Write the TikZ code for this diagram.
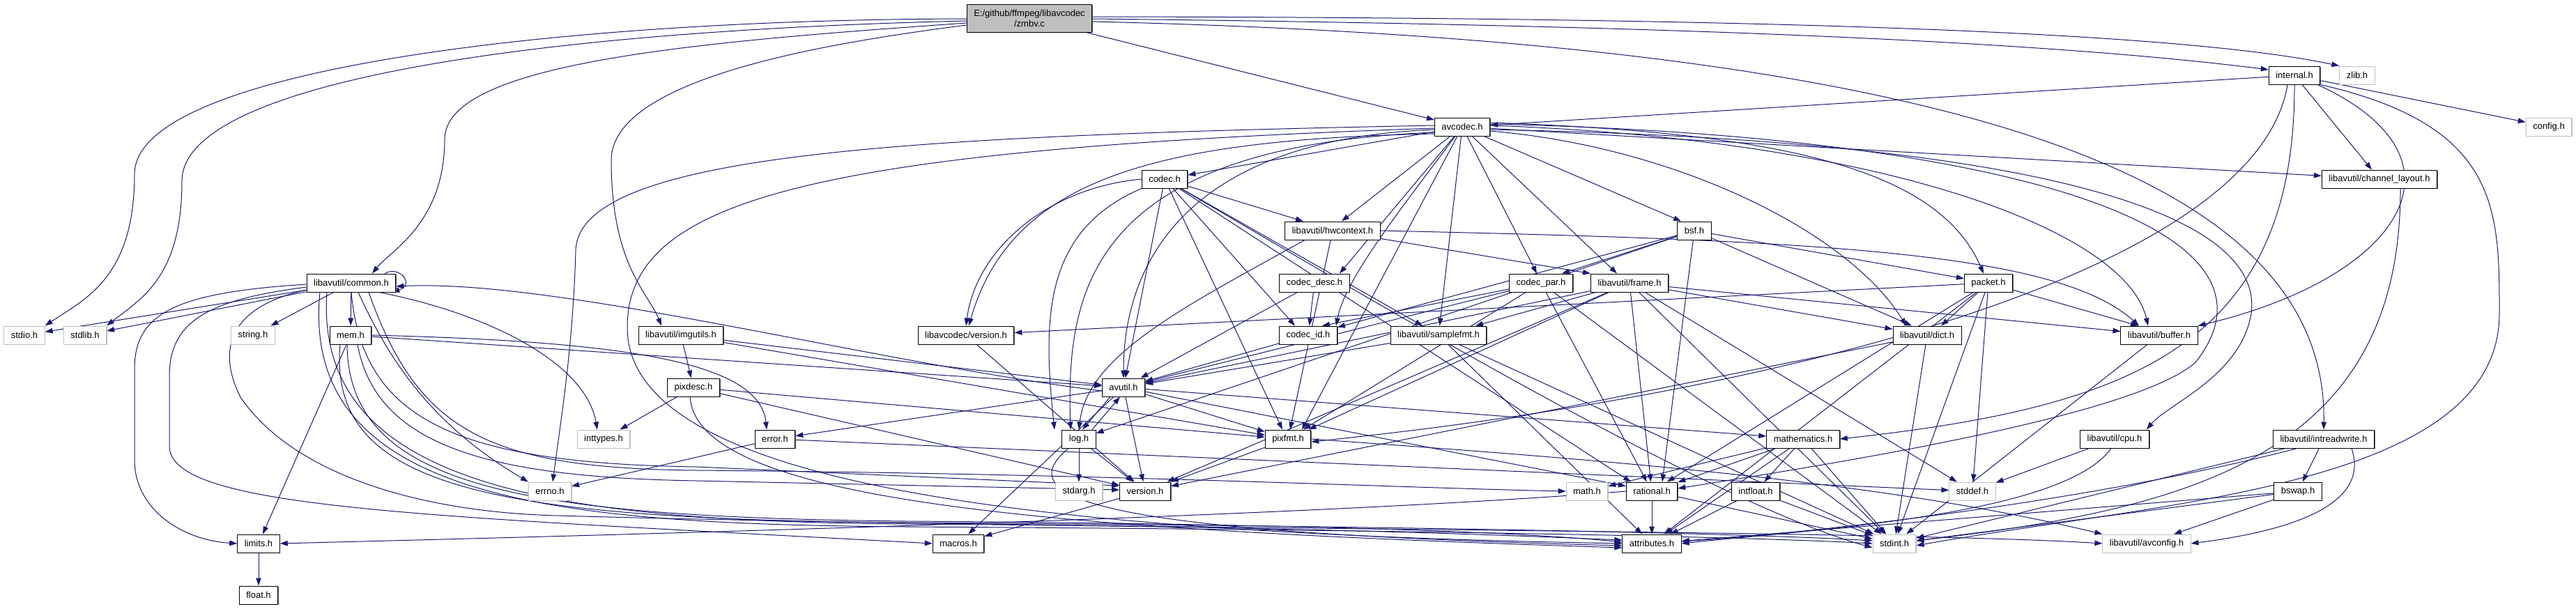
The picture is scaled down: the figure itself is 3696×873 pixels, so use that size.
\documentclass[tikz,border=0pt]{standalone}
\usepackage{fontspec}
\setmainfont{Liberation Sans}
\usetikzlibrary{arrows.meta,shadows}
\definecolor{ec}{HTML}{191970}
\definecolor{zg}{HTML}{BFBFBF}
\definecolor{gb}{HTML}{BFBFBF}
\newcommand{\nf}{\fontsize{13pt}{15pt}\selectfont}
\pgfdeclarelayer{bg}
\pgfsetlayers{bg,main}
\tikzset{
  nb/.style={draw=black, line width=1pt, fill=white, minimum height=26pt, inner xsep=10pt, inner ysep=0pt, font=\nf,
    drop shadow={shadow xshift=1.2pt, shadow yshift=-1.2pt, fill=black!60, opacity=1}},
  ng/.style={draw=gb, line width=1pt, fill=white, minimum height=26pt, inner xsep=10pt, inner ysep=0pt, font=\nf,
    drop shadow={shadow xshift=1pt, shadow yshift=-1pt, fill=gray!50, opacity=1}},
  ln/.style={draw=ec, line width=1pt, -{Triangle[length=11pt,width=7.5pt]}},
}
\begin{document}
\begin{tikzpicture}[x=1pt,y=-1pt]
\useasboundingbox (0,0) rectangle (3696,873);
% ---------------- nodes
\node[nb,fill=zg,align=center,minimum height=40pt] (Z) at (1477,26) {E:/github/ffmpeg/libavcodec\\/zmbv.c};
\node[nb] (internal) at (3292,108) {internal.h};
\node[ng] (zlib) at (3382,108) {zlib.h};
\node[ng] (config) at (3657,182) {config.h};
\node[nb] (avcodec) at (2098,182) {avcodec.h};
\node[nb] (codec) at (1671,257) {codec.h};
\node[nb] (chl) at (3414,257) {libavutil/channel\_layout.h};
\node[nb] (hw) at (1912,331) {libavutil/hwcontext.h};
\node[nb] (bsf) at (2431,331) {bsf.h};
\node[nb] (cdesc) at (1886,406) {codec\_desc.h};
\node[nb] (cpar) at (2211,406) {codec\_par.h};
\node[nb] (frame) at (2338,406) {libavutil/frame.h};
\node[nb] (packet) at (2853,406) {packet.h};
\node[nb] (common) at (504,406) {libavutil/common.h};
\node[nb] (lcver) at (1386,481) {libavcodec/version.h};
\node[nb] (cid) at (1877,481) {codec\_id.h};
\node[nb] (sfmt) at (2064,481) {libavutil/samplefmt.h};
\node[nb] (dict) at (2765,481) {libavutil/dict.h};
\node[nb] (buffer) at (3098,481) {libavutil/buffer.h};
\node[ng] (stdio) at (35,481) {stdio.h};
\node[ng] (stdlib) at (122,481) {stdlib.h};
\node[ng] (string) at (363,481) {string.h};
\node[nb] (mem) at (503,481) {mem.h};
\node[nb] (imgutils) at (977,481) {libavutil/imgutils.h};
\node[nb] (pixdesc) at (995,556) {pixdesc.h};
\node[nb] (avutil) at (1612,556) {avutil.h};
\node[ng] (inttypes) at (866,630) {inttypes.h};
\node[nb] (error) at (1112,630) {error.h};
\node[nb] (log) at (1548,630) {log.h};
\node[nb] (pixfmt) at (1848,630) {pixfmt.h};
\node[nb] (mathematics) at (2587,630) {mathematics.h};
\node[nb] (cpu) at (3034,630) {libavutil/cpu.h};
\node[nb] (intrw) at (3334,630) {libavutil/intreadwrite.h};
\node[ng] (errno) at (789,705) {errno.h};
\node[ng] (stdarg) at (1548,705) {stdarg.h};
\node[nb] (version) at (1643,705) {version.h};
\node[ng] (math) at (2277,705) {math.h};
\node[nb] (rational) at (2370,705) {rational.h};
\node[nb] (intfloat) at (2519,705) {intfloat.h};
\node[ng] (stddef) at (2830,705) {stddef.h};
\node[nb] (bswap) at (3297,705) {bswap.h};
\node[nb] (limits) at (371,780) {limits.h};
\node[nb] (macros) at (1375,780) {macros.h};
\node[nb] (attributes) at (2370,780) {attributes.h};
\node[ng] (stdint) at (2718,780) {stdint.h};
\node[ng] (avconfig) at (3080,780) {libavutil/avconfig.h};
\node[nb] (float) at (371,854) {float.h};
% ---------------- edges
\begin{pgfonlayer}{bg}
% zmbv.c
\draw[ln] ([yshift=-1pt]Z.west) .. controls (800,28) and (193,100) .. (193,250) .. controls (193,400) and (120,430) .. (stdio.north east);
\draw[ln] ([yshift=-4pt]Z.west) .. controls (750,45) and (261,120) .. (261,260) .. controls (261,400) and (200,430) .. (stdlib.north east);
\draw[ln] ([yshift=-7pt]Z.west) .. controls (1000,60) and (638,90) .. (638,200) .. controls (638,320) and (560,360) .. ([xshift=30pt]common.north);
\draw[ln] ([yshift=-10pt]Z.west) .. controls (1200,60) and (877,110) .. (877,230) .. controls (877,380) and (930,420) .. ([xshift=-28pt]imgutils.north);
\draw[ln] (Z) -- (avcodec);
\draw[ln] ([yshift=-1pt]Z.east) .. controls (2300,35) and (2900,55) .. ([yshift=8pt]internal.west);
\draw[ln] ([yshift=2pt]Z.east) .. controls (2400,25) and (3100,40) .. (zlib.north west);
\draw[ln] ([yshift=-5pt]Z.east) .. controls (2800,60) and (3340,250) .. (intrw.north);
% internal.h
\draw[ln] (internal) -- (avcodec);
\draw[ln] (internal) -- (config);
\draw[ln] (internal) -- (chl);
\draw[ln] ([xshift=-4pt]internal.south east) .. controls (3560,230) and (3440,400) .. (buffer.north east);
\draw[ln] (internal.south east) .. controls (3586,180) and (3586,300) .. (3586,450) .. controls (3586,700) and (3100,720) .. ([yshift=-3pt]stdint.east);
\draw[ln] (internal.south) .. controls (3293,500) and (3050,585) .. (mathematics.east);
\draw[ln] ([xshift=-10pt]internal.south) .. controls (3240,380) and (2600,560) .. ([yshift=-4pt]pixfmt.east);
% avcodec.h
\draw[ln] ([yshift=2pt]avcodec.west) .. controls (1300,195) and (829,220) .. (826,360) .. controls (822,500) and (805,600) .. ([xshift=4pt]errno.north);
\draw[ln] ([yshift=-2pt]avcodec.west) .. controls (1150,215) and (900,290) .. (900,470) .. controls (900,700) and (1500,765) .. (attributes.west);
\draw[ln] ([yshift=-4pt]avcodec.west) .. controls (1700,200) and (1612,380) .. (avutil.north);
\draw[ln] ([yshift=2pt]avcodec.east) .. controls (2700,200) and (3050,330) .. ([xshift=-16pt]buffer.north);
\draw[ln] ([yshift=-4pt]avcodec.east) .. controls (2900,200) and (3250,300) .. (3230,450) .. controls (3215,540) and (3110,580) .. ([xshift=-4pt]cpu.north east);
\draw[ln] (avcodec) -- (chl);
\draw[ln] ([yshift=-6pt]avcodec.east) .. controls (2400,210) and (2650,330) .. ([xshift=-30pt]dict.north);
\draw[ln] (avcodec) -- ([xshift=-18pt]frame.north);
\draw[ln] (avcodec) -- ([xshift=13pt]hw.north);
\draw[ln] ([yshift=-8pt]avcodec.west) .. controls (1560,210) and (1530,420) .. ([xshift=-12pt]log.north);
\draw[ln] (avcodec) -- ([xshift=20pt]pixfmt.north);
\draw[ln] ([yshift=4pt]avcodec.east) .. controls (2900,195) and (3300,330) .. (3150,520) .. controls (3060,600) and (2600,670) .. ([yshift=4pt]rational.east);
\draw[ln] (avcodec) -- (codec);
\draw[ln] (avcodec) -- ([xshift=36pt]cdesc.north);
\draw[ln] (avcodec) -- ([xshift=-6pt]cpar.north);
\draw[ln] (avcodec) .. controls (2010,300) and (1930,400) .. ([xshift=-2pt]cid.north east);
\draw[ln] ([yshift=6pt]avcodec.east) .. controls (2550,190) and (2780,240) .. ([xshift=-7pt]packet.north);
\draw[ln] ([yshift=-10pt]avcodec.west) .. controls (1650,200) and (1450,260) .. ([xshift=4pt]lcver.north);
\draw[ln] (avcodec) -- ([xshift=-19pt]bsf.north);
\draw[ln] (avcodec) -- (sfmt);
% codec.h
\draw[ln] (codec) .. controls (1950,420) and (2450,720) .. ([yshift=-6pt]stdint.west);
\draw[ln] (codec) -- (avutil);
\draw[ln] (codec) -- ([xshift=-42pt]hw.north);
\draw[ln] (codec.south west) .. controls (1500,330) and (1495,450) .. ([xshift=-35pt]log.north);
\draw[ln] (codec) -- ([xshift=-8pt]pixfmt.north);
\draw[ln] (codec) -- ([xshift=-30pt]rational.north);
\draw[ln] (codec) -- ([xshift=-23pt]sfmt.north);
\draw[ln] (codec) -- ([xshift=-19pt]cid.north);
\draw[ln] (codec.west) .. controls (1500,270) and (1400,360) .. (lcver.north);
% codec_desc.h, codec_id.h
\draw[ln] (cdesc) -- (avutil);
\draw[ln] (cdesc) -- (cid);
\draw[ln] (cid) -- (avutil);
% codec_par.h
\draw[ln] (cpar) -- (stdint);
\draw[ln] (cpar) -- (avutil);
\draw[ln] (cpar) -- (rational);
\draw[ln] (cpar) -- (pixfmt);
\draw[ln] (cpar) -- ([xshift=20pt]cid.north);
% bsf.h
\draw[ln] (bsf) -- ([xshift=-22pt]dict.north);
\draw[ln] (bsf) -- (log);
\draw[ln] (bsf) -- ([xshift=15pt]rational.north);
\draw[ln] (bsf) -- (cid);
\draw[ln] (bsf) -- ([xshift=30pt]cpar.north);
\draw[ln] (bsf) -- (packet);
% packet.h
\draw[ln] (packet) -- (stddef);
\draw[ln] (packet) -- (stdint);
\draw[ln] (packet) -- (attributes);
\draw[ln] (packet) -- ([xshift=-30pt]buffer.north);
\draw[ln] (packet) -- ([xshift=20pt]dict.north);
\draw[ln] (packet) -- (rational);
\draw[ln] (packet) -- (lcver);
% versions
\draw[ln] (lcver) -- (version);
\draw[ln] (version) -- (macros);
% hwcontext.h
\draw[ln] (hw.east) .. controls (2600,345) and (2950,360) .. ([xshift=-29pt]buffer.north);
\draw[ln] (hw) -- (frame.north west);
\draw[ln] ([xshift=-40pt]hw.south) .. controls (1700,440) and (1560,510) .. (log.north);
\draw[ln] (hw) -- (pixfmt);
% frame.h
\draw[ln] (frame) -- (stddef);
\draw[ln] (frame) -- (stdint);
\draw[ln] (frame) -- (avutil);
\draw[ln] (frame) -- (buffer);
\draw[ln] (frame) -- (dict);
\draw[ln] (frame) -- (rational);
\draw[ln] (frame) -- ([xshift=53pt]sfmt.north);
\draw[ln] (frame) -- (pixfmt);
\draw[ln] (frame) -- (version);
% samplefmt.h, dict.h, buffer.h, channel_layout.h
\draw[ln] (sfmt) -- (stdint);
\draw[ln] (sfmt) -- (avutil);
\draw[ln] (sfmt) -- (attributes);
\draw[ln] (dict) -- (stdint);
\draw[ln] (dict) -- (version);
\draw[ln] (buffer) -- (stdint);
\draw[ln] ([xshift=30pt]chl.south) .. controls (3445,650) and (3150,730) .. ([yshift=4pt]stdint.east);
% cpu.h
\draw[ln] (cpu) -- (stddef);
\draw[ln] ([xshift=-5pt]cpu.south) .. controls (2960,740) and (2600,760) .. (attributes.east);
% avutil.h
\draw[ln] ([yshift=-5pt]avutil.west) .. controls (1250,520) and (800,400) .. ([yshift=-5pt]common.east);
\draw[ln] (avutil) -- (error);
\draw[ln] (avutil) -- (rational);
\draw[ln] (avutil) -- (version);
\draw[ln] (avutil) -- (macros);
\draw[ln] (avutil) -- (mathematics);
\draw[ln] ([xshift=-19pt]avutil.south) -- ([xshift=5pt]log.north);
\draw[ln] (avutil) -- (pixfmt);
% log.h
\draw[ln] ([xshift=19pt]log.north) -- ([xshift=-5pt]avutil.south);
\draw[ln] (log) -- (stdarg);
\draw[ln] ([xshift=-15pt]log.south) .. controls (1440,720) and (1600,765) .. ([yshift=-3pt]attributes.west);
\draw[ln] (log) -- (version);
% common.h
\draw[ln] (common) -- (stdio);
\draw[ln] (common) -- (stdlib);
\draw[ln] (common) -- (string);
\draw[ln] (common) -- (mem);
\draw[ln] ([xshift=-16pt]common.north east) .. controls ([xshift=4pt,yshift=12pt]common.north east) and ([xshift=28pt,yshift=-2pt]common.east) .. ([xshift=-6pt]common.south east);
\draw[ln] ([yshift=-2pt]common.west) .. controls (250,420) and (193,450) .. (193,530) -- (193,660) .. controls (193,730) and (260,775) .. (limits.west);
\draw[ln] ([yshift=-6pt]common.west) .. controls (300,430) and (243,460) .. (243,540) -- (243,640) .. controls (243,730) and (600,740) .. (macros.west);
\draw[ln] ([xshift=10pt]common.south) .. controls (560,520) and (620,610) .. (errno.north west);
\draw[ln] ([xshift=40pt]common.south) .. controls (700,450) and (840,520) .. ([xshift=-9pt]inttypes.north);
\draw[ln] ([xshift=25pt]common.south) .. controls (600,620) and (700,672) .. (1000,675) .. controls (1600,680) and (2000,700) .. (math.west);
\draw[ln] ([xshift=-45pt]common.south) .. controls (430,720) and (800,752) .. (1300,756) .. controls (2000,760) and (2500,770) .. (stdint.west);
\draw[ln] ([xshift=-35pt]common.south) .. controls (450,700) and (800,748) .. (1300,752) .. controls (1900,756) and (2200,770) .. ([yshift=5pt]attributes.west);
\draw[ln] ([yshift=-10pt]common.west) .. controls (330,440) and (310,500) .. (345,570) .. controls (420,680) and (600,735) .. (800,740) .. controls (1500,760) and (2700,760) .. (avconfig.west);
\draw[ln] (common.south) .. controls (520,600) and (650,665) .. (1000,670) -- ([yshift=8pt]version.west);
% mem.h
\draw[ln] (mem) -- (limits);
\draw[ln] ([xshift=-15pt]mem.south) .. controls (470,700) and (700,745) .. (1300,750) .. controls (2000,755) and (2500,765) .. ([yshift=4pt]stdint.west);
\draw[ln] ([xshift=-5pt]mem.south) .. controls (500,700) and (750,742) .. (1300,748) .. controls (1900,752) and (2200,765) .. ([yshift=2pt]attributes.west);
\draw[ln] (mem.east) .. controls (900,490) and (1090,520) .. ([xshift=-12pt]error.north);
\draw[ln] (mem) -- (avutil);
\draw[ln] ([xshift=10pt]mem.south) .. controls (540,640) and (700,685) .. (1000,690) -- ([yshift=2pt]version.west);
% error.h
\draw[ln] (error) -- (errno);
\draw[ln] (error) -- (stddef);
% pixfmt.h
\draw[ln] (pixfmt.east) .. controls (2300,660) and (2700,690) .. (avconfig.north west);
\draw[ln] (pixfmt) -- (version);
% rational.h
\draw[ln] (rational) -- (stdint);
\draw[ln] (rational.west) .. controls (1900,740) and (1000,765) .. (limits.east);
\draw[ln] (rational) -- (attributes);
% mathematics.h
\draw[ln] (mathematics) -- (stdint);
\draw[ln] (mathematics) -- (math);
\draw[ln] (mathematics) -- (attributes);
\draw[ln] (mathematics) -- (rational);
\draw[ln] (mathematics) -- (intfloat);
% intfloat.h
\draw[ln] (intfloat) -- (stdint);
\draw[ln] (intfloat) -- (attributes);
% imgutils.h, pixdesc.h
\draw[ln] (imgutils) -- (avutil);
\draw[ln] (imgutils) -- (pixdesc);
\draw[ln] (imgutils) -- (pixfmt);
\draw[ln] (pixdesc) -- (inttypes);
\draw[ln] ([xshift=-5pt]pixdesc.south) .. controls (1000,720) and (1500,760) .. ([yshift=-6pt]attributes.west);
\draw[ln] (pixdesc) -- (pixfmt);
\draw[ln] (pixdesc) -- (version);
% intreadwrite.h, bswap.h
\draw[ln] (intrw) -- (stdint);
\draw[ln] ([xshift=40pt]intrw.south) .. controls (3400,720) and (3300,760) .. (avconfig.east);
\draw[ln] ([xshift=-38pt]intrw.south) .. controls (3000,720) and (2600,765) .. ([yshift=3pt]attributes.east);
\draw[ln] (intrw) -- (bswap);
\draw[ln] (bswap) -- (stdint);
\draw[ln] (bswap) -- (avconfig);
\draw[ln] (bswap) -- (attributes);
% limits.h
\draw[ln] (limits) -- (float);
\end{pgfonlayer}
\end{tikzpicture}
\end{document}
